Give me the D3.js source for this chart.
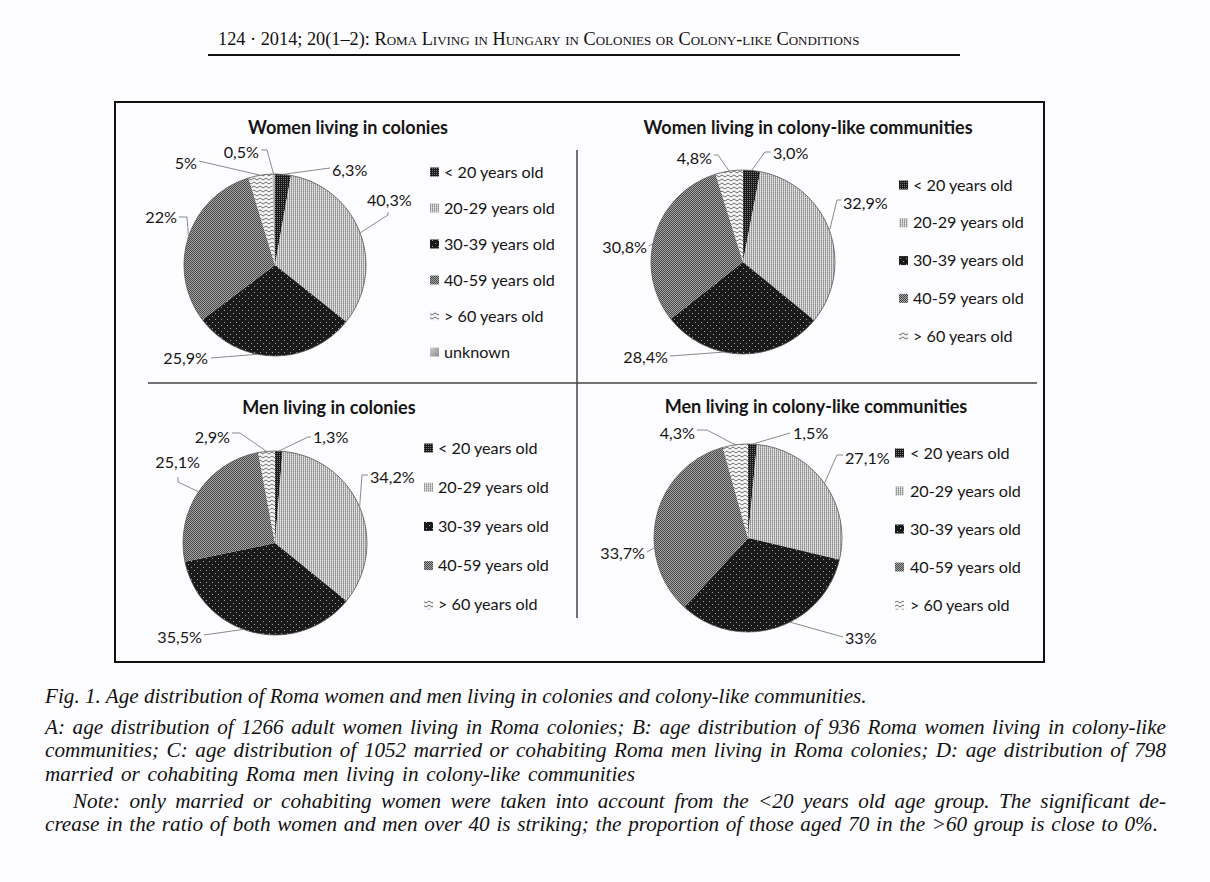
<!DOCTYPE html>
<html><head><meta charset="utf-8">
<script src="https://cdn.jsdelivr.net/npm/d3@7"></script>
<style>html,body{margin:0;padding:0;background:#fdfcfe;} svg{display:block;}</style>
</head><body>
<svg id="c" width="1210" height="882"></svg>
<script>
// ---------- DATA ----------
const ageGroups = ["< 20 years old", "20-29 years old", "30-39 years old", "40-59 years old", "> 60 years old"];
const ageGroupsA = ["< 20 years old", "20-29 years old", "30-39 years old", "40-59 years old", "> 60 years old", "unknown"];
const titles = ["Women living in colonies", "Women living in colony-like communities", "Men living in colonies", "Men living in colony-like communities"];

// slice sizes as drawn in the picture (%)
const valuesA = [2.8, 32.9, 29.0, 30.6, 4.2, 0.5];
const valuesB = [3.0, 32.9, 28.4, 30.8, 4.8];
const valuesC = [1.3, 34.2, 35.5, 25.1, 2.9];
const valuesD = [1.5, 27.1, 33, 33.7, 4.3];
// data label texts as printed
const labelsA = ["6,3%", "40,3%", "25,9%", "22%", "5%", "0,5%"];
const labelsB = ["3,0%", "32,9%", "28,4%", "30,8%", "4,8%"];
const labelsC = ["1,3%", "34,2%", "35,5%", "25,1%", "2,9%"];
const labelsD = ["1,5%", "27,1%", "33%", "33,7%", "4,3%"];

const headerText = "124 · 2014; 20(1–2): Roma Living in Hungary in Colonies or Colony-like Conditions";
const captionLines = [
  "Fig. 1. Age distribution of Roma women and men living in colonies and colony-like communities.",
  "A: age distribution of 1266 adult women living in Roma colonies; B: age distribution of 936 Roma women living in colony-like",
  "communities; C: age distribution of 1052 married or cohabiting Roma men living in Roma colonies; D: age distribution of 798",
  "married or cohabiting Roma men living in colony-like communities",
  "Note: only married or cohabiting women were taken into account from the <20 years old age group. The significant de-",
  "crease in the ratio of both women and men over 40 is striking; the proportion of those aged 70 in the >60 group is close to 0%."
];

// ---------- LAYOUT (label placement relative to pie centre) ----------
// [textX, textY, anchor, attachX, attachY, elbowX, elbowY, positionInSlice]
const layoutA = [
  [57, -95, "start", 55, -97, null, null, 0.5],
  [92, -65, "start", 113, -53, 113, -50, 0.5],
  [-67, 93, "end", -64, 93, null, null, 0.6],
  [-98, -48, "end", -96, -48, -88, -48, 0.5],
  [-78, -102, "end", -76, -104, null, null, 0.5],
  [-16, -113, "end", -14, -115, -8, -115, 0.5]
];
const layoutB = [
  [30, -109, "start", 28, -110, 22, -110, 0.5],
  [100, -59, "start", 98, -62, 94, -62, 0.5],
  [-75, 95, "end", -73, 94, null, null, 0.61],
  [-96, -15, "end", -94, -16, null, null, 0.45],
  [-31, -104, "end", -29, -107, -25, -107, 0.5]
];
const layoutC = [
  [38, -106, "start", 36, -106, 33, -106, 0.5],
  [95, -66, "start", 93, -68, 87, -68, 0.5],
  [-73, 94, "end", -71, 92, null, null, 0.55],
  [-75, -81, "end", -97, -66, -97, -61, 0.5],
  [-45, -106, "end", -43, -110, -35, -110, 0.5]
];
const layoutD = [
  [45, -105, "start", 42, -105, null, null, 0.5],
  [97, -80, "start", 95, -83, 89, -83, 0.5],
  [97, 100, "start", 95, 99, null, null, 0.42],
  [-103, 15, "end", -101, 14, null, null, 0.34],
  [-53, -105, "end", -51, -108, -41, -108, 0.5]
];

const panels = [
  {title: titles[0], cats: ageGroupsA, values: valuesA, labels: labelsA, lay: layoutA, cx: 275, cy: 265, r: 91, tx: 348, ty: 134, sx: 430, lx: 444, ly: 172, step: 36},
  {title: titles[1], cats: ageGroups, values: valuesB, labels: labelsB, lay: layoutB, cx: 743, cy: 262, r: 92, tx: 808, ty: 134, sx: 899, lx: 913, ly: 185, step: 37.8},
  {title: titles[2], cats: ageGroups, values: valuesC, labels: labelsC, lay: layoutC, cx: 275, cy: 543, r: 92, tx: 329, ty: 414, sx: 424, lx: 438, ly: 448, step: 39.2},
  {title: titles[3], cats: ageGroups, values: valuesD, labels: labelsD, lay: layoutD, cx: 748, cy: 538, r: 94, tx: 816, ty: 413, sx: 895, lx: 910, ly: 453, step: 38}
];

// ---------- DRAW ----------
const SANS = "Lato, 'Open Sans', sans-serif";
const SERIF = "'Liberation Serif', 'DejaVu Serif', serif";
const svg = d3.select("#c");
svg.append("rect").attr("width", 1210).attr("height", 882).attr("fill", "#fdfcfe");
const defs = svg.append("defs");

function measure(str, family, size, weight, style, variant) {
  const t = svg.append("text").attr("font-family", family).attr("font-size", size)
    .attr("font-weight", weight || "normal").attr("font-style", style || "normal")
    .attr("font-variant", variant || "normal").text(str);
  const w = t.node().getComputedTextLength();
  t.remove();
  return w;
}

function pat(id, w, h, bg, draw) {
  const p = defs.append("pattern").attr("id", id).attr("patternUnits", "userSpaceOnUse")
    .attr("width", w).attr("height", h);
  p.append("rect").attr("width", w).attr("height", h).attr("fill", bg);
  draw(p);
}
const px = (p, x, y, c, w = 1, h = 1) => p.append("rect").attr("x", x).attr("y", y).attr("width", w).attr("height", h).attr("fill", c);
pat("p0", 2, 2, "#1a1a1a", p => { px(p, 0, 0, "#7a7a7a"); });
pat("p1", 2, 2, "#d2d2d2", p => { px(p, 0, 0, "#8e8e8e"); px(p, 0, 1, "#a8a8a8"); px(p, 1, 1, "#e4e4e4"); });
pat("p2", 6, 6, "#1a1a1a", p => { px(p, 0, 0, "#a0a0a0"); px(p, 3, 3, "#a0a0a0"); });
pat("p3", 2, 2, "#474747", p => { px(p, 1, 0, "#a6a6a6"); px(p, 0, 1, "#a6a6a6"); });
pat("p4", 6, 4, "#f6f6f6", p => {
  p.append("path").attr("d", "M0,3 L3,1 L6,3").attr("fill", "none").attr("stroke", "#6e6e6e").attr("stroke-width", 1);
});
const lg = defs.append("linearGradient").attr("id", "p5").attr("x1", 0).attr("y1", 0).attr("x2", 1).attr("y2", 1);
lg.append("stop").attr("offset", "0%").attr("stop-color", "#d0d0d0");
lg.append("stop").attr("offset", "100%").attr("stop-color", "#8a8a8a");
const fillFor = i => i === 5 ? "url(#p5)" : `url(#p${i})`;

// header
const headSize = 14 * 644 / measure(headerText, SERIF, 14, "normal", "normal", "small-caps");
svg.append("text").attr("x", 218).attr("y", 45).attr("font-family", SERIF).attr("font-size", headSize)
  .attr("font-variant", "small-caps").attr("fill", "#111").text(headerText);
svg.append("line").attr("x1", 208).attr("x2", 960).attr("y1", 55).attr("y2", 55).attr("stroke", "#111").attr("stroke-width", 2);

// frame and dividers
svg.append("rect").attr("x", 115).attr("y", 102).attr("width", 929).attr("height", 560)
  .attr("fill", "none").attr("stroke", "#111").attr("stroke-width", 2);
svg.append("line").attr("x1", 577).attr("x2", 577).attr("y1", 150).attr("y2", 618).attr("stroke", "#444").attr("stroke-width", 1.5);
svg.append("line").attr("x1", 148).attr("x2", 1037).attr("y1", 383).attr("y2", 383).attr("stroke", "#444").attr("stroke-width", 1.5);

const fs = 16 * 111 / measure("20-29 years old", SANS, 16);
const fsTitle = 16 * 200 / measure("Women living in colonies", SANS, 16, "bold");

panels.forEach(P => {
  // title
  svg.append("text").attr("x", P.tx).attr("y", P.ty).attr("text-anchor", "middle")
    .attr("font-family", SANS).attr("font-weight", "bold").attr("font-size", fsTitle).attr("fill", "#151515").text(P.title);

  const arcs = d3.pie().sort(null).value(d => d)(P.values);
  const arc = d3.arc().innerRadius(0).outerRadius(P.r);
  const g = svg.append("g").attr("transform", `translate(${P.cx},${P.cy})`);
  g.selectAll("path.s").data(arcs).join("path").attr("class", "s")
    .attr("d", arc).attr("fill", (d, i) => fillFor(i));
  g.append("circle").attr("r", P.r).attr("fill", "none").attr("stroke", "#555").attr("stroke-width", 0.8);

  // labels + leaders
  const line = d3.line();
  arcs.forEach((d, i) => {
    const L = P.lay[i];
    const a = d.startAngle + L[7] * (d.endAngle - d.startAngle);
    const edge = [P.r * Math.sin(a), -P.r * Math.cos(a)];
    const pts = [[L[3], L[4]]];
    if (L[5] !== null) pts.push([L[5], L[6]]);
    pts.push(edge);
    g.append("path").attr("d", line(pts)).attr("fill", "none").attr("stroke", "#8a8a8a").attr("stroke-width", 1);
    g.append("text").attr("x", L[0]).attr("y", L[1]).attr("dy", "0.35em").attr("text-anchor", L[2])
      .attr("font-family", SANS).attr("font-size", fs).attr("fill", "#151515").text(P.labels[i]);
  });

  // legend
  const leg = svg.append("g");
  P.cats.forEach((c, i) => {
    const y = P.ly + i * P.step;
    leg.append("rect").attr("x", P.sx).attr("y", y - 4.5).attr("width", 9).attr("height", 9).attr("fill", fillFor(i));
    leg.append("text").attr("x", P.lx).attr("y", y).attr("dy", "0.35em").attr("font-family", SANS)
      .attr("font-size", fs).attr("fill", "#151515").text(c);
  });
});

// caption
const capSize = 20 * 822 / measure(captionLines[0], SERIF, 20, "normal", "italic");
const capY = [703, 734, 757, 781, 808, 831];
const capX = [45, 45, 45, 45, 73, 45];
const capEnd = [867, 1166, 1166, 635, 1166, 1158];
captionLines.forEach((s, i) => {
  const t = svg.append("text").attr("x", capX[i]).attr("y", capY[i]).attr("font-family", SERIF)
    .attr("font-style", "italic").attr("font-size", capSize).attr("fill", "#111").text(s);
  const w = t.node().getComputedTextLength();
  const n = (s.match(/ /g) || []).length;
  const extra = (capEnd[i] - capX[i] - w) / n;
  if (Math.abs(extra) > 0.05) t.attr("word-spacing", extra);
});
</script>
</body></html>
